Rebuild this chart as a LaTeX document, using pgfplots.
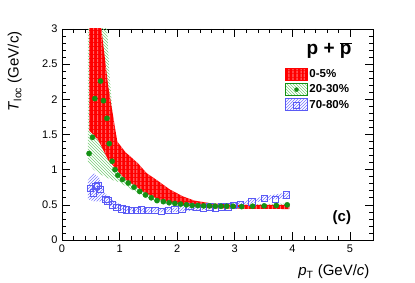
\documentclass[border=0pt]{standalone}
\usepackage{fontspec}
\setmainfont{Liberation Sans}
\usepackage{pgfplots}
\pgfplotsset{compat=1.18}
\usetikzlibrary{patterns,patterns.meta}
\definecolor{rred}{RGB}{255,0,0}
\definecolor{rredl}{RGB}{255,160,160}
\definecolor{rgreen}{RGB}{20,145,20}
\definecolor{rgreenl}{RGB}{120,205,120}
\definecolor{rblue}{RGB}{90,90,245}
\definecolor{rbluel}{RGB}{120,120,255}
\begin{document}
\begin{tikzpicture}
\path[use as bounding box] (0,0) rectangle (415pt,283pt);
\begin{axis}[
  at={(62pt,43pt)}, anchor=south west,
  width=311pt, height=211pt, scale only axis,
  xmin=0, xmax=5.4, ymin=0, ymax=3,
  xtick={0,1,2,3,4,5}, ytick={0,0.5,1,1.5,2,2.5,3},
  minor x tick num=4, minor y tick num=4,
  tick align=inside, major tick length=8pt, minor tick length=4pt,
  axis line style={line width=0.8pt}, every tick/.style={black, line width=0.6pt},
  /pgf/number format/assume math mode=true,
  tick label style={font=\fontsize{11}{13}\selectfont},
  xticklabel style={yshift=-1pt},
  yticklabel style={xshift=-1pt},
  xlabel={\textit{p}\textsubscript{T} (GeV/\textit{c})},
  ylabel={\textit{T}\textsubscript{loc} (GeV/c)},
  label style={font=\fontsize{15}{17}\selectfont},
  xlabel style={at={(axis description cs:1,-0.152)}, anchor=east},
  ylabel style={at={(axis description cs:-0.152,1.005)}, anchor=east},
  legend style={at={(0.717,0.815)}, anchor=north west, draw=none, fill=none,
    font=\bfseries\fontsize{11.5}{13}\selectfont, row sep=2.5pt, inner sep=0pt,
    nodes={inner sep=1.5pt}},
  legend cell align=left,
  clip=true,
]
% green systematic band
\addplot[forget plot, draw=none, pattern=north west lines, pattern color=rgreenl] coordinates {
(0.45,3.1) (0.78,3.1) (0.82,2.4) (0.9,1.6) (1.0,1.1) (1.2,0.9) (1.5,0.7) (2,0.56) (3,0.5) (3.95,0.52)
(3.95,0.46) (3,0.45) (2,0.48) (1.5,0.58) (1.2,0.72) (1.0,0.82) (0.85,0.86) (0.7,0.92) (0.55,1.0) (0.45,1.1)
} -- cycle;
% blue systematic band
\addplot[forget plot, draw=none, pattern=north east lines, pattern color=rbluel] coordinates {
(0.45,0.85) (0.55,0.95) (0.65,0.88) (0.75,0.66) (0.9,0.55) (1.1,0.47) (1.5,0.45) (2,0.46) (2.5,0.49) (3,0.52) (3.5,0.62) (3.95,0.68)
(3.95,0.60) (3.5,0.56) (3,0.47) (2.5,0.43) (2,0.40) (1.5,0.39) (1.0,0.42) (0.8,0.50) (0.7,0.55) (0.55,0.55) (0.45,0.58)
} -- cycle;
% red band
\addplot[forget plot, draw=none, fill=rred, postaction={pattern={Lines[angle=90,distance=4pt,line width=0.5pt]}, pattern color=rredl}] coordinates {
(0.47,3.1) (0.67,3.1) (0.80,2.2) (0.96,1.4) (1.1,1.25) (1.32,1.09) (1.47,0.95) (1.65,0.85) (1.87,0.72) (2.1,0.62) (2.3,0.56) (2.6,0.52) (3.0,0.50) (3.95,0.50)
(3.95,0.44) (3.0,0.445) (2.5,0.455) (2.0,0.51) (1.7,0.57) (1.44,0.67) (1.27,0.77) (1.1,0.86) (1.0,0.95) (0.80,1.14) (0.63,1.42) (0.47,1.56)
} -- cycle;
% blue points
\addplot[forget plot, only marks, mark=square, mark size=3.2pt, rblue, mark options={line width=0.8pt}] coordinates {
(0.49,0.73) (0.54,0.67) (0.59,0.76) (0.62,0.78) (0.67,0.72) (0.76,0.58) (0.80,0.555) (0.87,0.50) (0.95,0.465)
(1.04,0.44) (1.12,0.43) (1.21,0.425) (1.30,0.425) (1.38,0.43) (1.50,0.425) (1.61,0.42) (1.73,0.405) (1.85,0.42)
(1.96,0.43) (2.08,0.44) (2.22,0.475) (2.34,0.465) (2.45,0.45) (2.57,0.47) (2.66,0.45) (2.77,0.47) (2.89,0.47)
(2.98,0.49) (3.10,0.51) (3.30,0.54) (3.51,0.59) (3.71,0.58) (3.90,0.64)
};
% green points
\addplot[forget plot, only marks, mark=*, mark size=2.6pt, rgreen] coordinates {
(0.47,1.23) (0.53,1.46) (0.57,2.01) (0.67,2.26) (0.72,1.98) (0.78,1.73) (0.82,1.37) (0.87,1.12) (0.92,1.00)
(0.97,0.92) (1.05,0.86) (1.15,0.81) (1.25,0.75) (1.35,0.69) (1.45,0.64) (1.55,0.60) (1.65,0.56) (1.76,0.545)
(1.86,0.53) (1.96,0.52) (2.06,0.51) (2.16,0.50) (2.26,0.49) (2.36,0.49) (2.46,0.485) (2.56,0.485) (2.66,0.48)
(2.76,0.48) (2.86,0.48) (2.97,0.48) (3.12,0.475) (3.31,0.48) (3.51,0.485) (3.72,0.49) (3.91,0.50)
};
\addlegendimage{legend image code/.code={\draw[draw=rred, fill=rred, postaction={pattern={Lines[angle=90,distance=4pt,line width=0.5pt]}, pattern color=rredl}] (0pt,-6pt) rectangle (22pt,6pt);}}
\addlegendentry{0-5\%}
\addlegendimage{legend image code/.code={\draw[draw=rgreen, line width=0.7pt, pattern=north west lines, pattern color=rgreenl] (0pt,-6pt) rectangle (22pt,6pt); \fill[rgreen] (11pt,0pt) circle (2pt);}}
\addlegendentry{20-30\%}
\addlegendimage{legend image code/.code={\draw[draw=rblue, line width=0.7pt, pattern=north east lines, pattern color=rbluel] (0pt,-6pt) rectangle (22pt,6pt); \draw[rblue, line width=0.6pt] (8pt,-3pt) rectangle (14pt,3pt);}}
\addlegendentry{70-80\%}
\node[font=\bfseries\fontsize{19}{21}\selectfont, anchor=base] at (axis description cs:0.859,0.877) {p + $\overline{\mbox{\bfseries p}}$};
\node[font=\bfseries\fontsize{15}{17}\selectfont] at (axis description cs:0.90,0.104) {(c)};
\end{axis}
\end{tikzpicture}
\end{document}
